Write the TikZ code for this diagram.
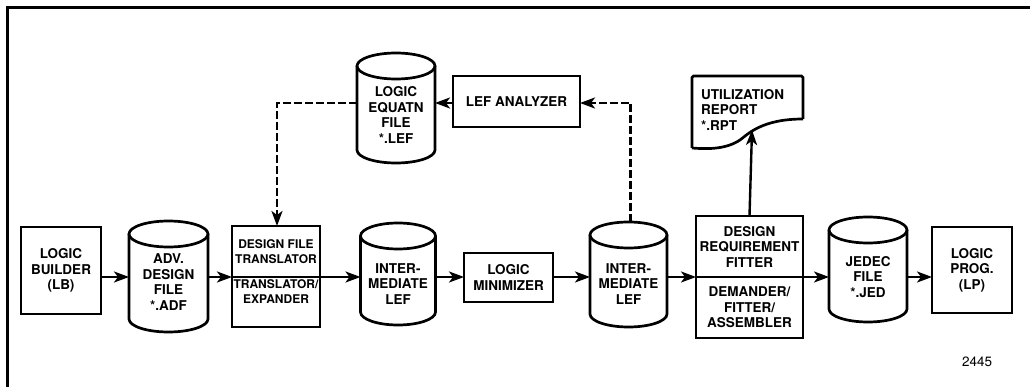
\documentclass[tikz,border=0pt]{standalone}
\usepackage{fontspec}
\setmainfont{TeX Gyre Heros}
\usetikzlibrary{arrows.meta,calc}
\begin{document}
\begin{tikzpicture}[x=1pt,y=-1pt,
  font=\bfseries\fontsize{13.5}{15.5}\selectfont,
  narrow/.style={font=\bfseries\fontsize{12}{15}\selectfont},
  box/.style={draw, line width=2.7pt, outer sep=0pt, inner sep=0pt, align=center},
  cyl/.style={outer sep=0pt, inner sep=0pt},
  txt/.style={align=center, inner sep=0pt},
  cylline/.style={line width=2.7pt},
  arr/.style={line width=2.4pt, -{Stealth[length=15pt,width=11pt,inset=4pt]}},
  darr/.style={arr, dash pattern=on 8pt off 3pt},
  frame/.style={line width=3pt}]
\useasboundingbox (0,0) rectangle (1030,387);
\clip (0,0) rectangle (1030,387);
\draw[frame] (7,400) -- (7,8) -- (1040,8);

% guide coordinates
\coordinate (m) at (0,277);
\coordinate (d) at (0,103);

% main row
\node[box, minimum width=80pt, minimum height=87pt] (lb) at (61,270.5) {LOGIC\\BUILDER\\(LB)};
\node[cyl, minimum width=79pt, minimum height=111pt] (adf) at (168.5,276.5) {};
\node[txt] (adft) at (168.5,282) {ADV.\\DESIGN\\FILE\\*.ADF};
\node[box, narrow, minimum width=88pt, minimum height=51pt] (tA) at (276,251.5) {DESIGN FILE\\TRANSLATOR};
\node[box, minimum width=88pt, minimum height=50pt] (tB) at (276,302) {};
\node[txt, narrow] (tBt) at (276,292) {TRANSLATOR/\\EXPANDER};
\node[cyl, minimum width=75pt, minimum height=102pt] (ila) at (398,274) {};
\node[txt] (ilat) at (398,284) {INTER-\\MEDIATE\\LEF};
\node[box, minimum width=89pt, minimum height=49pt] (min) at (508.5,277.5) {LOGIC\\MINIMIZER};
\node[cyl, minimum width=77pt, minimum height=105pt] (ilb) at (628.5,274.5) {};
\node[txt] (ilbt) at (628.5,284) {INTER-\\MEDIATE\\LEF};
\node[box, minimum width=107pt, minimum height=61pt] (fA) at (749.5,246.5) {DESIGN\\REQUIREMENT\\FITTER};
\node[box, minimum width=107pt, minimum height=61pt] (fB) at (749.5,307.5) {DEMANDER/\\FITTER/\\ASSEMBLER};
\node[cyl, minimum width=78pt, minimum height=105pt] (jed) at (868,269.5) {};
\node[txt] (jedt) at (868,277) {JEDEC\\FILE\\*.JED};
\node[box, minimum width=80pt, minimum height=86pt] (lp) at (972,270) {LOGIC\\PROG.\\(LP)};

% top row
\node[cyl, minimum width=78pt, minimum height=110pt] (lef) at (396,108) {};
\node[txt] (left) at (396,115) {LOGIC\\EQUATN\\FILE\\*.LEF};
\node[box, minimum width=127pt, minimum height=51pt] (lefa) at (516.5,101.5) {LEF ANALYZER};

% report document
\draw[line width=2.7pt, rounded corners=1.5pt] (692,148) -- (692,76) -- (803,76) -- (803,119);
\draw[line width=2.7pt] (803,119) .. controls (762,119) and (748,134) .. (740,140) .. controls (725,150) and (705,149) .. (692,148);
\node[txt, align=left, anchor=west] (rpt) at (701,110) {UTILIZATION\\REPORT\\*.RPT};
\coordinate (rptb) at (752,130);
\node[txt, font=\mdseries\fontsize{13.5}{15}\selectfont] (num) at (977,362) {2445};

% cylinder outlines
\def\ry{13}
\foreach \n/\w in {adf/79,ila/75,ilb/77,jed/78,lef/78}{
  \pgfmathsetmacro{\rx}{\w/2}
  \draw[cylline] ($(\n.north west)+(0,\ry)$) -- ($(\n.south west)+(0,-\ry)$)
     arc[start angle=180, end angle=360, x radius=\rx pt, y radius=\ry pt]
     -- ($(\n.north east)+(0,\ry)$);
  \draw[cylline] ($(\n.north)+(0,\ry)$) ellipse[x radius=\rx pt, y radius=\ry pt];
}

% main connectors
\draw[arr] (lb.east |- m) -- (adf.west |- m);
\draw[arr] (adf.east |- m) -- (tA.south west);
\draw[arr] (tA.south east) -- (ila.west |- m);
\draw[arr] (ila.east |- m) -- (min.west |- m);
\draw[arr] (min.east |- m) -- (ilb.west |- m);
\draw[arr] (ilb.east |- m) -- (fA.south west);
\draw[arr] (fA.south east) -- (jed.west |- m);
\draw[arr] (jed.east |- m) -- (lp.west |- m);
\draw[arr] (fA.north) -- (rptb);

% dashed feedback
\draw[darr] ([xshift=2pt]ilb.north) -- ([xshift=2pt]ilb.north |- d) -- (lefa.east |- d);
\draw[darr] (lefa.west |- d) -- (lef.east |- d);
\draw[darr] (lef.west |- d) -- ([xshift=1pt]tA.north |- d) -- ([xshift=1pt]tA.north);
\end{tikzpicture}
\end{document}
